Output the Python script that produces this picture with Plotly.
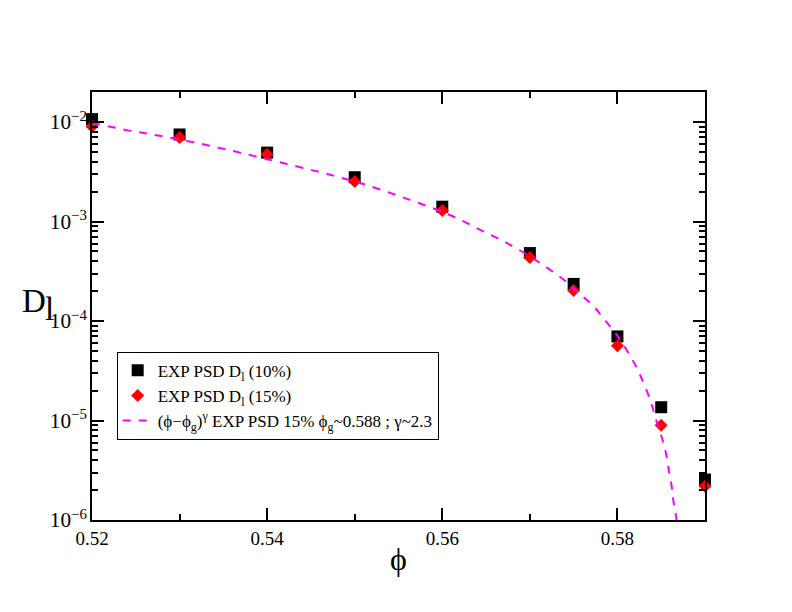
import plotly.graph_objects as go

# ---- data ----
phi = [0.52, 0.53, 0.54, 0.55, 0.56, 0.57, 0.575, 0.58, 0.585, 0.59]
d_10 = [1.07e-2, 7.5e-3, 4.93e-3, 2.79e-3, 1.41e-3, 4.82e-4, 2.36e-4, 7.0e-5, 1.36e-5, 2.55e-6]
d_15 = [9.0e-3, 7.0e-3, 4.75e-3, 2.52e-3, 1.29e-3, 4.35e-4, 2.03e-4, 5.65e-5, 8.95e-6, 2.19e-6]

fit_phi = [0.5200, 0.5243, 0.5277, 0.5324, 0.5371, 0.5418, 0.5467, 0.5514, 0.5563,
           0.5608, 0.5644, 0.5675, 0.5708, 0.5739, 0.5754, 0.5772, 0.5785, 0.5799,
           0.5810, 0.5820, 0.5828, 0.5835, 0.5841, 0.5846, 0.5852, 0.5856, 0.5859,
           0.5862, 0.5864, 0.5867, 0.5869]
fit_d = [9.8e-3, 8.2e-3, 7.28e-3, 6.05e-3, 4.88e-3, 3.87e-3, 3.03e-3, 2.32e-3, 1.65e-3,
         1.17e-3, 8.2e-4, 6.0e-4, 4.03e-4, 2.58e-4, 1.97e-4, 1.43e-4, 1.04e-4, 7.3e-5,
         5.2e-5, 3.67e-5, 2.6e-5, 1.84e-5, 1.27e-5, 9.0e-6, 6.2e-6, 4.4e-6, 3.05e-6,
         2.16e-6, 1.53e-6, 1.08e-6, 7.0e-7]

names = ["EXP PSD D<sub>l</sub> (10%)",
         "EXP PSD D<sub>l</sub> (15%)",
         "(ϕ−ϕ<sub>g</sub>)<sup>γ</sup> EXP PSD 15% ϕ<sub>g</sub>~0.588 ; γ~2.3"]

FONT = "Liberation Serif, Times New Roman, Times, serif"

fig = go.Figure()
fig.add_trace(go.Scatter(x=phi, y=d_10, mode="markers", name=names[0],
                         marker=dict(symbol="square", size=12, color="black"),
                         cliponaxis=False))
fig.add_trace(go.Scatter(x=phi, y=d_15, mode="markers", name=names[1],
                         marker=dict(symbol="diamond", size=10, color="#ff0000"),
                         cliponaxis=False))
fig.add_trace(go.Scatter(x=fit_phi, y=fit_d, mode="lines", name=names[2],
                         line=dict(color="#ff00ff", width=2, dash="8px,8px", shape="spline")))

fig.update_xaxes(range=[0.52, 0.59], dtick=0.02, tick0=0.52, tickformat=".2f",
                 showline=True, linecolor="black", linewidth=1.5, mirror="ticks",
                 ticks="inside", ticklen=12, tickwidth=1.5, tickcolor="black",
                 showgrid=False, zeroline=False,
                 tickfont=dict(family=FONT, size=19, color="black"),
                 minor=dict(dtick=0.01, ticks="inside", ticklen=6, tickwidth=1.5,
                            tickcolor="black", showgrid=False))
fig.update_yaxes(type="log", range=[-6, -1.698], dtick=1, exponentformat="power",
                 showline=True, linecolor="black", linewidth=1.5, mirror="ticks",
                 ticks="inside", ticklen=12, tickwidth=1.5, tickcolor="black",
                 showgrid=False, zeroline=False,
                 tickfont=dict(family=FONT, size=17, color="black"),
                 minor=dict(dtick="D1", ticks="inside", ticklen=6, tickwidth=1.5,
                            tickcolor="black", showgrid=False))

fig.add_annotation(text="ϕ", xref="paper", yref="paper", x=0.5, y=-0.09,
                   xanchor="center", yanchor="middle", showarrow=False, borderpad=0,
                   font=dict(family=FONT, size=32, color="black"))
fig.add_annotation(text="D", xref="paper", yref="paper", x=-0.0945, y=0.5123,
                   xanchor="center", yanchor="middle", showarrow=False, borderpad=0,
                   font=dict(family=FONT, size=33, color="black"))
fig.add_annotation(text="l", xref="paper", yref="paper", x=-0.0695, y=0.4930,
                   xanchor="center", yanchor="middle", showarrow=False, borderpad=0,
                   font=dict(family=FONT, size=33, color="black"))

fig.update_layout(
    width=792, height=612,
    margin=dict(l=84.3, r=95.2, t=84, b=99.5),
    paper_bgcolor="white", plot_bgcolor="white",
    font=dict(family=FONT, color="black"),
    showlegend=True,
    legend=dict(x=0.0403, y=0.393, xanchor="left", yanchor="top",
                bordercolor="black", borderwidth=1, bgcolor="white",
                font=dict(family=FONT, size=17, color="black"),
                tracegroupgap=2),
)

fig.write_html("out.html")
